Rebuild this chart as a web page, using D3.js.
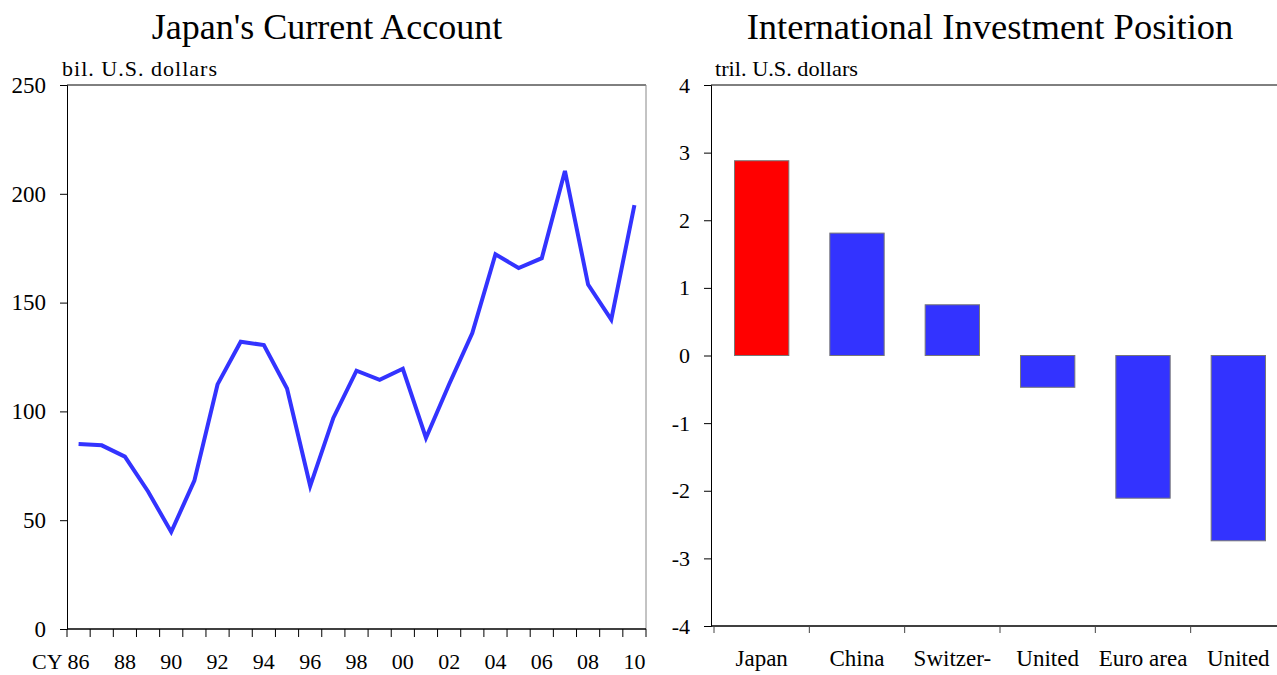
<!DOCTYPE html>
<html><head><meta charset="utf-8">
<script src="https://cdn.jsdelivr.net/npm/d3@7"></script>
<style>
html,body{margin:0;padding:0;background:#fff;}
svg text{font-family:"Liberation Serif","Times New Roman",serif !important;fill:#000;}
</style></head>
<body>
<svg id="c" width="1277" height="675" font-family="Liberation Serif, serif"></svg>
<script>
// Left chart data
const years = ["86","87","88","89","90","91","92","93","94","95","96","97","98","99","00","01","02","03","04","05","06","07","08","09","10"];
const currentAccount = [85,84.4,79.2,63.2,44.6,68.2,112.4,132,130.5,110.5,65.7,97,118.7,114.5,119.6,87.8,112.5,136,172.2,165.9,170.4,210.5,158.3,142.2,194.8];
const yearLabels = ["86","88","90","92","94","96","98","00","02","04","06","08","10"];
const leftTicks = [0,50,100,150,200,250];

// Right chart data
const countries = ["Japan","China","Switzer-","United","Euro area","United"];
const iip = [2.88,1.81,0.75,-0.47,-2.11,-2.74];
const barColors = ["#ff0000","#3333ff","#3333ff","#3333ff","#3333ff","#3333ff"];
const rightTicks = [-4,-3,-2,-1,0,1,2,3,4];

const FONT = "Liberation Serif, Times New Roman, serif";
const svg = d3.select("#c");
const fmt = d => String(d).replace("\u2212","-");

// ---------- Left chart ----------
const L = {x0:67, x1:646, y0:85, y1:629};
const xL = d3.scaleBand().domain(years).range([L.x0, L.x1]);
const yL = d3.scaleLinear().domain([0,250]).range([L.y1, L.y0]);

svg.append("text").attr("x",327).attr("y",39).attr("text-anchor","middle")
  .attr("font-family",FONT).style("font-size","36px").text("Japan's Current Account");
svg.append("text").attr("x",62).attr("y",76).attr("font-family",FONT).style("font-size","22px")
  .attr("textLength",155).attr("lengthAdjust","spacing").text("bil. U.S. dollars");

// frame
svg.append("line").attr("x1",L.x0).attr("x2",L.x1).attr("y1",L.y0).attr("y2",L.y0).attr("stroke","#000").attr("stroke-width",1);
svg.append("line").attr("x1",L.x1).attr("x2",L.x1).attr("y1",L.y0).attr("y2",L.y1).attr("stroke","#888").attr("stroke-width",1);

const gyL = svg.append("g").attr("transform",`translate(${L.x0},0)`)
  .call(d3.axisLeft(yL).tickValues(leftTicks).tickSize(7).tickPadding(14).tickFormat(d=>fmt(d)));
gyL.attr("font-family",FONT);
gyL.select(".domain").attr("stroke","#000");
gyL.selectAll("text").attr("font-family",FONT).style("font-size","23px");

const gxL = svg.append("g").attr("transform",`translate(0,${L.y1})`);
gxL.append("line").attr("x1",L.x0).attr("x2",L.x1).attr("stroke","#000").attr("stroke-width",1.5);
const boundaries = d3.range(years.length+1).map(i => L.x0 + i*xL.step());
gxL.selectAll("line.tk").data(boundaries).join("line").attr("class","tk")
  .attr("x1",d=>d).attr("x2",d=>d).attr("y1",0).attr("y2",8).attr("stroke","#000");
gxL.selectAll("text.yl").data(yearLabels).join("text").attr("class","yl")
  .attr("x",d=>xL(d)+xL.bandwidth()/2).attr("y",40).attr("text-anchor","middle")
  .attr("font-family",FONT).style("font-size","22px").text(d=>d);
gxL.append("text").attr("x",xL("86")+xL.bandwidth()/2-16).attr("y",40).attr("text-anchor","end")
  .attr("font-family",FONT).style("font-size","22px").text("CY");

const line = d3.line().x((d,i)=>xL(years[i])+xL.bandwidth()/2).y(d=>yL(d));
svg.append("path").datum(currentAccount).attr("d",line).attr("fill","none")
  .attr("stroke","#3333ff").attr("stroke-width",4).attr("stroke-linejoin","miter");

// ---------- Right chart ----------
const R = {x0:711, x1:1283, y0:85, y1:626};
const xR = d3.scaleBand().domain(d3.range(countries.length)).range([R.x0, R.x1]).paddingInner(0.43).paddingOuter(0.215);
const xRb = d3.scaleBand().domain(d3.range(countries.length)).range([R.x0, R.x1]);
const yR = d3.scaleLinear().domain([-4,4]).range([R.y1, R.y0]);

svg.append("text").attr("x",990).attr("y",39).attr("text-anchor","middle")
  .attr("font-family",FONT).style("font-size","36.5px").text("International Investment Position");
svg.append("text").attr("x",715).attr("y",76).attr("font-family",FONT).style("font-size","22px")
  .attr("textLength",143).attr("lengthAdjust","spacingAndGlyphs").text("tril. U.S. dollars");

svg.append("line").attr("x1",R.x0).attr("x2",1277).attr("y1",R.y0).attr("y2",R.y0).attr("stroke","#000");

const gyR = svg.append("g").attr("transform",`translate(${R.x0},0)`)
  .call(d3.axisLeft(yR).tickValues(rightTicks).tickSize(7).tickPadding(14).tickFormat(d=>fmt(d)));
gyR.attr("font-family",FONT);
gyR.select(".domain").attr("stroke","#000");
gyR.selectAll("text").attr("font-family",FONT).style("font-size","22px");

const gxR = svg.append("g").attr("transform",`translate(0,${R.y1})`);
gxR.append("line").attr("x1",R.x0).attr("x2",1277).attr("stroke","#000").attr("stroke-width",1.5);
gxR.selectAll("line.tk").data(d3.range(countries.length+1)).join("line").attr("class","tk")
  .attr("x1",i=>R.x0+i*xRb.step()+3).attr("x2",i=>R.x0+i*xRb.step()+3).attr("y1",0).attr("y2",7).attr("stroke","#444");
gxR.selectAll("text.cl").data(countries).join("text").attr("class","cl")
  .attr("x",(d,i)=>xRb(i)+xRb.bandwidth()/2+3).attr("y",40).attr("text-anchor","middle")
  .attr("font-family",FONT).style("font-size","23px").text(d=>d);

svg.selectAll("rect.bar").data(iip).join("rect").attr("class","bar")
  .attr("x",(d,i)=>xR(i)+3).attr("width",xR.bandwidth())
  .attr("y",d=>yR(Math.max(0,d))).attr("height",d=>Math.abs(yR(d)-yR(0)))
  .attr("fill",(d,i)=>barColors[i]).attr("stroke","#777").attr("stroke-width",1);
</script>
</body></html>
